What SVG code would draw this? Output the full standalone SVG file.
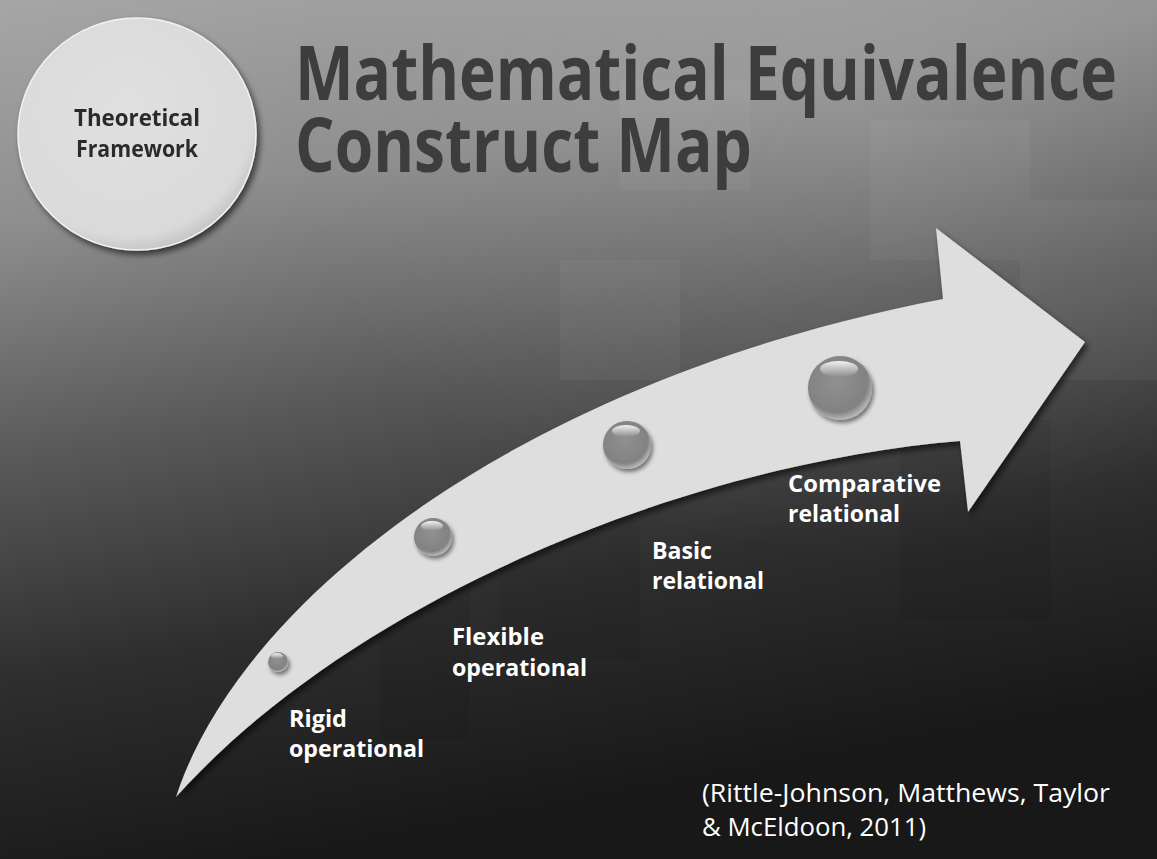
<svg xmlns="http://www.w3.org/2000/svg" width="1157" height="859" viewBox="0 0 1157 859">
<defs>
<linearGradient id="bg" x1="0" y1="0" x2="0.25" y2="1">
<stop offset="0" stop-color="#a6a6a6"/>
<stop offset="0.25" stop-color="#8e8e8e"/>
<stop offset="0.5" stop-color="#5a5a5a"/>
<stop offset="0.75" stop-color="#2e2e2e"/>
<stop offset="1" stop-color="#181818"/>
</linearGradient>
<radialGradient id="glow" cx="0.75" cy="0.15" r="0.5">
<stop offset="0" stop-color="#ffffff" stop-opacity="0.12"/>
<stop offset="1" stop-color="#ffffff" stop-opacity="0"/>
</radialGradient>
<radialGradient id="disc" cx="0.45" cy="0.4" r="0.6">
<stop offset="0" stop-color="#e0e0e0"/>
<stop offset="0.9" stop-color="#dadada"/>
<stop offset="1" stop-color="#c8c8c8"/>
</radialGradient>
<radialGradient id="ball" cx="0.45" cy="0.4" r="0.6">
<stop offset="0" stop-color="#909090"/>
<stop offset="0.8" stop-color="#828282"/>
<stop offset="1" stop-color="#b8b8b8"/>
</radialGradient>
<linearGradient id="hl" x1="0" y1="0" x2="0" y2="1">
<stop offset="0" stop-color="#ffffff" stop-opacity="0.9"/>
<stop offset="1" stop-color="#ffffff" stop-opacity="0"/>
</linearGradient>
<filter id="sh" x="-20%" y="-20%" width="150%" height="150%">
<feGaussianBlur in="SourceAlpha" stdDeviation="3"/>
<feOffset dx="3" dy="4"/>
<feComponentTransfer><feFuncA type="linear" slope="0.6"/></feComponentTransfer>
<feMerge><feMergeNode/><feMergeNode in="SourceGraphic"/></feMerge>
</filter>
<filter id="bsh" x="-40%" y="-40%" width="200%" height="200%">
<feGaussianBlur in="SourceAlpha" stdDeviation="2"/>
<feOffset dx="2" dy="3"/>
<feComponentTransfer><feFuncA type="linear" slope="0.5"/></feComponentTransfer>
<feMerge><feMergeNode/><feMergeNode in="SourceGraphic"/></feMerge>
</filter>
</defs>
<style>
.title{font-family:"Open Sans","Noto Sans",sans-serif;font-weight:700;font-size:76px;fill:#3d3d3d}
.disc{font-family:"Open Sans","Noto Sans",sans-serif;font-weight:700;font-size:24px;fill:#2b2b2b}
.lab{font-family:"Open Sans","Noto Sans",sans-serif;font-weight:700;font-size:23px;fill:#ffffff}
.cite{font-family:"Open Sans","Noto Sans",sans-serif;font-weight:400;font-size:26px;fill:#ffffff}
</style>
<rect width="1157" height="859" fill="url(#bg)"/>
<rect width="1157" height="859" fill="url(#glow)"/>
<g fill="#ffffff" opacity="0.04">
<rect x="620" y="80" width="130" height="110"/>
<rect x="870" y="120" width="160" height="140"/>
<rect x="1020" y="200" width="137" height="180"/>
<rect x="560" y="260" width="120" height="120"/>
</g>
<g fill="#000000" opacity="0.05">
<rect x="500" y="520" width="140" height="140"/>
<rect x="900" y="420" width="150" height="200"/>
<rect x="380" y="580" width="90" height="160"/>
</g>

<g id="arrow" filter="url(#sh)">
<path d="M176,797 C240,600 520,380 943,299 L936,228 L1085,342 L968,512 L960,441 C700,462 360,592 176,797 Z" fill="#dedede"/>
</g>

<g id="framework" filter="url(#sh)">
<ellipse cx="137" cy="134" rx="119" ry="116" fill="url(#disc)" stroke="#f2f2f2" stroke-width="1.5"/>
<text class="disc" x="137" y="126" text-anchor="middle" textLength="126" lengthAdjust="spacingAndGlyphs">Theoretical</text>
<text class="disc" x="137" y="157" text-anchor="middle" textLength="122" lengthAdjust="spacingAndGlyphs">Framework</text>
</g>

<g id="title">
<text class="title" x="295" y="100" textLength="822" lengthAdjust="spacingAndGlyphs">Mathematical Equivalence</text>
<text class="title" x="295" y="172" textLength="457" lengthAdjust="spacingAndGlyphs">Construct Map</text>
</g>

<g id="stage1">
<g filter="url(#bsh)"><circle cx="278" cy="662" r="10" fill="url(#ball)"/><ellipse cx="277" cy="656" rx="6" ry="3" fill="url(#hl)"/></g>
<text class="lab" x="289" y="727" textLength="58" lengthAdjust="spacingAndGlyphs">Rigid</text>
<text class="lab" x="289" y="757" textLength="135" lengthAdjust="spacingAndGlyphs">operational</text>
</g>
<g id="stage2">
<g filter="url(#bsh)"><circle cx="433" cy="537" r="19" fill="url(#ball)"/><ellipse cx="432" cy="526" rx="11" ry="5" fill="url(#hl)"/></g>
<text class="lab" x="452" y="645" textLength="92" lengthAdjust="spacingAndGlyphs">Flexible</text>
<text class="lab" x="452" y="676" textLength="135" lengthAdjust="spacingAndGlyphs">operational</text>
</g>
<g id="stage3">
<g filter="url(#bsh)"><circle cx="627" cy="445" r="24" fill="url(#ball)"/><ellipse cx="626" cy="431" rx="14" ry="6" fill="url(#hl)"/></g>
<text class="lab" x="652" y="559" textLength="60" lengthAdjust="spacingAndGlyphs">Basic</text>
<text class="lab" x="652" y="589" textLength="112" lengthAdjust="spacingAndGlyphs">relational</text>
</g>
<g id="stage4">
<g filter="url(#bsh)"><circle cx="840" cy="388" r="32" fill="url(#ball)"/><ellipse cx="839" cy="369" rx="19" ry="8" fill="url(#hl)"/></g>
<text class="lab" x="788" y="492" textLength="153" lengthAdjust="spacingAndGlyphs">Comparative</text>
<text class="lab" x="788" y="522" textLength="112" lengthAdjust="spacingAndGlyphs">relational</text>
</g>

<g id="citation">
<text class="cite" x="702" y="802" textLength="408" lengthAdjust="spacingAndGlyphs">(Rittle-Johnson, Matthews, Taylor</text>
<text class="cite" x="702" y="836" textLength="224" lengthAdjust="spacingAndGlyphs">&amp; McEldoon, 2011)</text>
</g>
</svg>
